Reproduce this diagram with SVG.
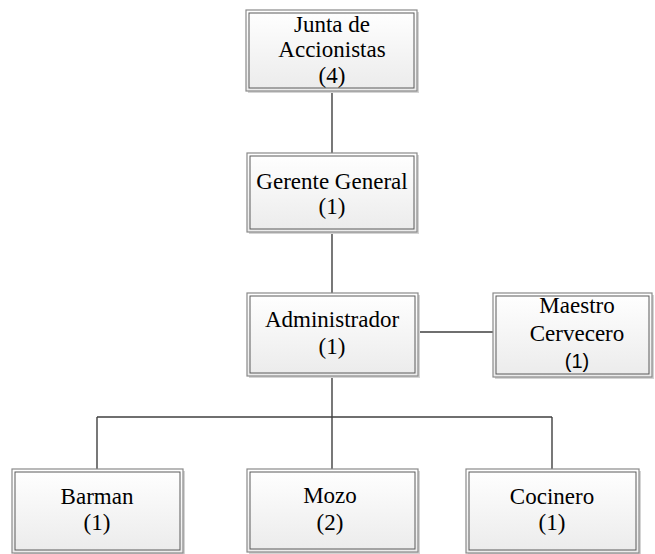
<svg xmlns="http://www.w3.org/2000/svg" width="655" height="554" viewBox="0 0 655 554">
<defs>
<linearGradient id="g" x1="0" y1="0" x2="0" y2="1">
<stop offset="0" stop-color="#ffffff"/>
<stop offset="1" stop-color="#ebebeb"/>
</linearGradient>
<style>
.sh{fill:#d4d4d4;}
.o{fill:url(#g);stroke:#8a8a8a;stroke-width:1.2;}
.i{fill:none;stroke:#5a5a5a;stroke-width:1;}
.t{font-family:"Liberation Serif","Times New Roman",serif;font-size:23px;fill:#000;text-anchor:middle;}
.s{font-family:"Liberation Sans",Arial,sans-serif;font-size:20px;fill:#000;text-anchor:middle;}
.c{stroke:#404040;stroke-width:1.4;fill:none;}
</style>
</defs>
<rect width="655" height="554" fill="#fff"/>
<g id="connectors">
<path class="c" d="M332 91V153M332 232V293M332 376V417M418 332H493M97 417H552M97 417V469M332 417V469M552 417V469"/>
</g>
<g id="junta">
<rect class="sh" x="248" y="12" width="171" height="81"/>
<rect class="o" x="246" y="10" width="171" height="81"/>
<rect class="i" x="249" y="13" width="165" height="75"/>
<text class="t" x="332" y="32">Junta de</text>
<text class="t" x="332" y="57">Accionistas</text>
<text class="t" x="332" y="83">(4)</text>
</g>
<g id="gerente">
<rect class="sh" x="249" y="155" width="170" height="79"/>
<rect class="o" x="247" y="153" width="170" height="79"/>
<rect class="i" x="250" y="156" width="164" height="73"/>
<text class="t" x="332" y="189">Gerente General</text>
<text class="t" x="332" y="214">(1)</text>
</g>
<g id="administrador">
<rect class="sh" x="249" y="295" width="171" height="83"/>
<rect class="o" x="247" y="293" width="171" height="83"/>
<rect class="i" x="250" y="296" width="165" height="77"/>
<text class="t" x="332" y="327">Administrador</text>
<text class="t" x="332" y="354">(1)</text>
</g>
<g id="maestro">
<rect class="sh" x="495" y="295" width="159" height="84"/>
<rect class="o" x="493" y="293" width="159" height="84"/>
<rect class="i" x="496" y="296" width="153" height="78"/>
<text class="t" x="577" y="313">Maestro</text>
<text class="t" x="577" y="341">Cervecero</text>
<text class="s" x="577" y="368">(1)</text>
</g>
<g id="barman">
<rect class="sh" x="14" y="471" width="171" height="84"/>
<rect class="o" x="12" y="469" width="171" height="84"/>
<rect class="i" x="15" y="472" width="165" height="78"/>
<text class="t" x="97" y="504">Barman</text>
<text class="t" x="97" y="530">(1)</text>
</g>
<g id="mozo">
<rect class="sh" x="249" y="471" width="171" height="83"/>
<rect class="o" x="247" y="469" width="171" height="83"/>
<rect class="i" x="250" y="472" width="165" height="77"/>
<text class="t" x="330" y="503">Mozo</text>
<text class="t" x="330" y="530">(2)</text>
</g>
<g id="cocinero">
<rect class="sh" x="468" y="471" width="173" height="84"/>
<rect class="o" x="466" y="469" width="173" height="84"/>
<rect class="i" x="469" y="472" width="167" height="78"/>
<text class="t" x="552" y="504">Cocinero</text>
<text class="t" x="552" y="530">(1)</text>
</g>
</svg>
